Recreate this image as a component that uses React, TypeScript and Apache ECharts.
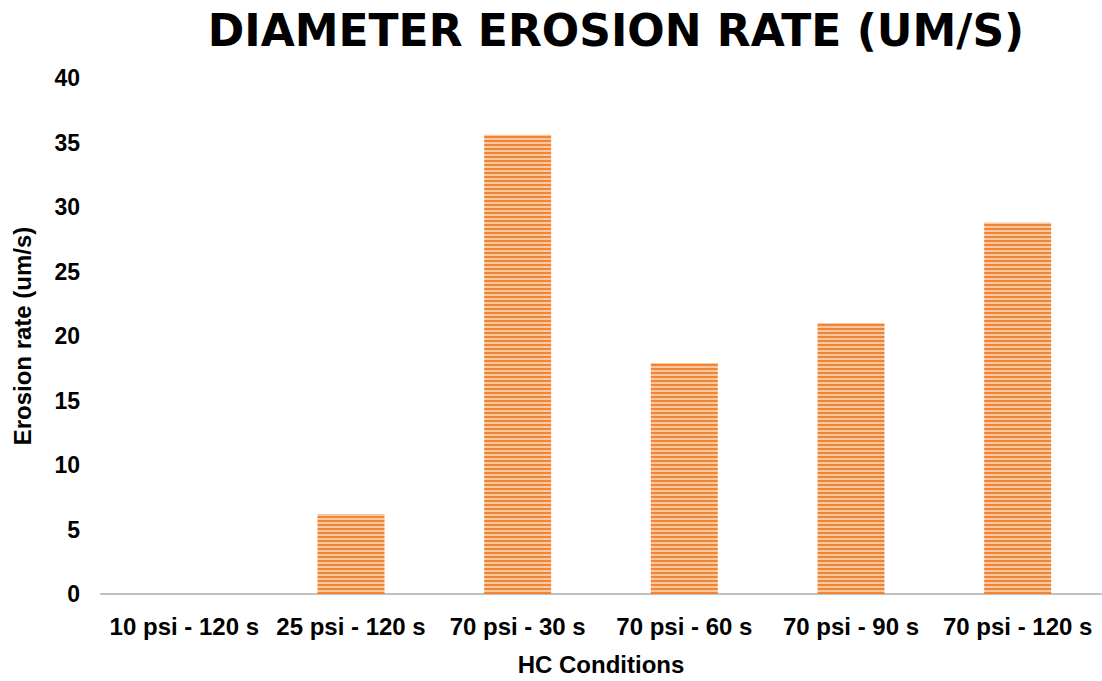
import React, { useEffect, useRef } from "react";
import * as echarts from "echarts";

const categories = ["10 psi - 120 s", "25 psi - 120 s", "70 psi - 30 s", "70 psi - 60 s", "70 psi - 90 s", "70 psi - 120 s"];
const erosionRates = [0, 6.2, 35.6, 17.9, 21.0, 28.8];
const yTicks = [0, 5, 10, 15, 20, 25, 30, 35, 40];

function makePattern(): HTMLCanvasElement {
  const c = document.createElement("canvas");
  c.width = 8;
  c.height = 4;
  const ctx = c.getContext("2d")!;
  ctx.fillStyle = "#F9C7A0";
  ctx.fillRect(0, 0, 8, 4);
  ctx.fillStyle = "#F08536";
  ctx.fillRect(0, 0, 8, 2);
  return c;
}

const labelFont = { fontFamily: "Liberation Sans", fontWeight: "bold", fontSize: 23, color: "#000" };

export default function App() {
  const ref = useRef<HTMLDivElement>(null);
  useEffect(() => {
    const chart = echarts.init(ref.current!, null, { renderer: "svg" });
    const pattern = makePattern();
    chart.setOption({
      animation: false,
      title: {
        text: "DIAMETER EROSION RATE (UM/S)",
        left: 611,
        top: 3,
        textAlign: "center",
        textStyle: { fontFamily: "DejaVu Sans", fontWeight: "bold", fontSize: 44, color: "#000" },
      },
      grid: { left: 101, right: 1, top: 78, bottom: 83 },
      xAxis: {
        type: "category",
        data: categories,
        axisLine: { lineStyle: { color: "#BFBFBF", width: 2 } },
        axisTick: { show: false },
        axisLabel: { ...labelFont, fontSize: 24, margin: 20, interval: 0 },
        name: "HC Conditions",
        nameLocation: "middle",
        nameGap: 58,
        nameTextStyle: { ...labelFont, fontSize: 24 },
      },
      yAxis: {
        type: "value",
        min: yTicks[0],
        max: yTicks[yTicks.length - 1],
        interval: 5,
        splitLine: { show: false },
        axisLine: { show: false },
        axisTick: { show: false },
        axisLabel: { ...labelFont, margin: 21 },
        name: "Erosion rate (um/s)",
        nameLocation: "middle",
        nameGap: 67,
        nameTextStyle: { ...labelFont, fontSize: 24 },
      },
      series: [
        {
          type: "bar",
          data: erosionRates,
          barWidth: 67,
          itemStyle: { color: { image: pattern, repeat: "repeat" } as any },
        },
      ],
    });
    return () => chart.dispose();
  }, []);
  return <div ref={ref} style={{ position: "absolute", left: 0, top: 0, width: 1102, height: 681 }} />;
}
